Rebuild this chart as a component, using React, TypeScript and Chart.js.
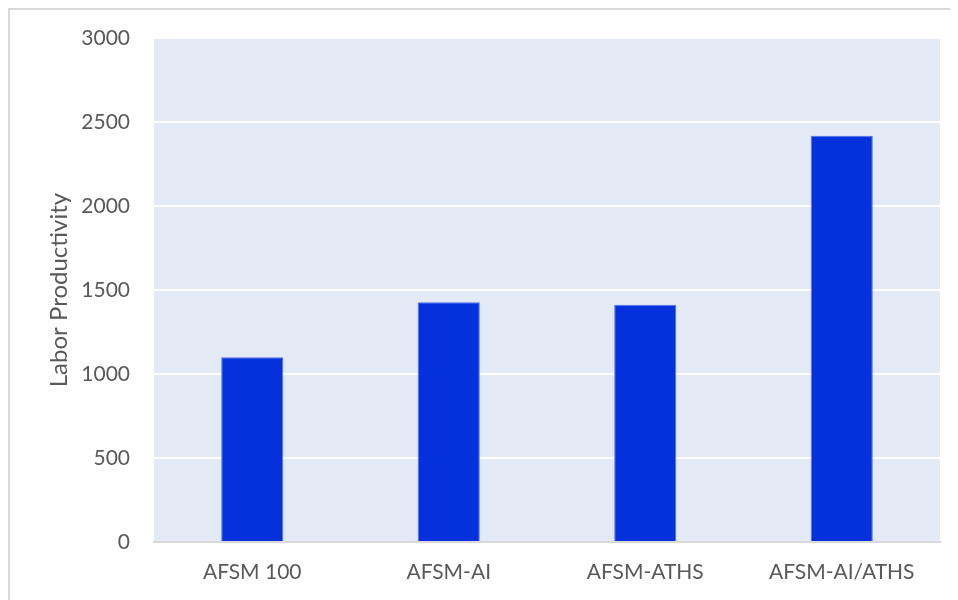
import React, { useEffect, useRef } from "react";
import { Chart, registerables } from "chart.js";

Chart.register(...registerables);

const categories = ["AFSM 100", "AFSM-AI", "AFSM-ATHS", "AFSM-AI/ATHS"];
const productivity = [1100, 1427, 1412, 2418];
const yTicks = [0, 500, 1000, 1500, 2000, 2500, 3000];
const yTitle = "Labor Productivity";

const FONT = "Lato, 'Open Sans', sans-serif";
const TEXT = "#595959";

const plotBg = {
  id: "plotBg",
  beforeDraw(chart: any) {
    const { ctx, chartArea } = chart;
    if (!chartArea) return;
    ctx.save();
    ctx.fillStyle = "#E3E9F5";
    ctx.fillRect(chartArea.left, chartArea.top, chartArea.right - chartArea.left, chartArea.bottom - chartArea.top);
    ctx.restore();
  },
};

export default function App() {
  const ref = useRef<HTMLCanvasElement | null>(null);
  useEffect(() => {
    if (!ref.current) return;
    const chart = new Chart(ref.current, {
      type: "bar",
      data: {
        labels: categories,
        datasets: [
          {
            data: productivity,
            backgroundColor: "#0431DB",
            borderColor: "#4F72EE",
            borderWidth: 1,
            categoryPercentage: 1,
            barPercentage: 0.316,
          },
        ],
      },
      plugins: [plotBg],
      options: {
        animation: false,
        responsive: false,
        maintainAspectRatio: false,
        layout: { padding: { top: 28, right: 18, left: 0, bottom: 0 } },
        plugins: { legend: { display: false }, tooltip: { enabled: false } },
        scales: {
          x: {
            grid: { display: false, drawTicks: false },
            border: { display: true, color: "#D9D9D9", width: 2 },
            ticks: { color: TEXT, font: { family: FONT, size: 21 }, padding: 18 },
            afterFit: (s: any) => {
              s.height = 58;
              s.paddingLeft = 0;
              s.paddingRight = 0;
            },
          },
          y: {
            min: 0,
            max: 3000,
            afterBuildTicks: (s: any) => {
              s.ticks = yTicks.map((v) => ({ value: v }));
            },
            grid: { color: "#FFFFFF", lineWidth: 2, drawTicks: false },
            border: { display: false },
            ticks: {
              color: TEXT,
              font: { family: FONT, size: 21 },
              padding: 24,
              callback: (v: any) => String(v),
            },
            title: {
              display: true,
              text: yTitle,
              color: TEXT,
              font: { family: FONT, size: 24 },
              padding: { top: 35, bottom: 0 },
            },
            afterFit: (s: any) => {
              s.width = 144;
              s.paddingTop = 0;
              s.paddingBottom = 0;
            },
          },
        },
      },
    });
    return () => chart.destroy();
  }, []);
  return (
    <div
      style={{
        width: 950,
        height: 592,
        borderTop: "2px solid #D9D9D9",
        borderLeft: "2px solid #D9D9D9",
        boxSizing: "border-box",
        overflow: "hidden",
        background: "#fff",
      }}
    >
      <canvas ref={ref} width={948} height={590} style={{ display: "block", width: 948, height: 590 }} />
    </div>
  );
}
